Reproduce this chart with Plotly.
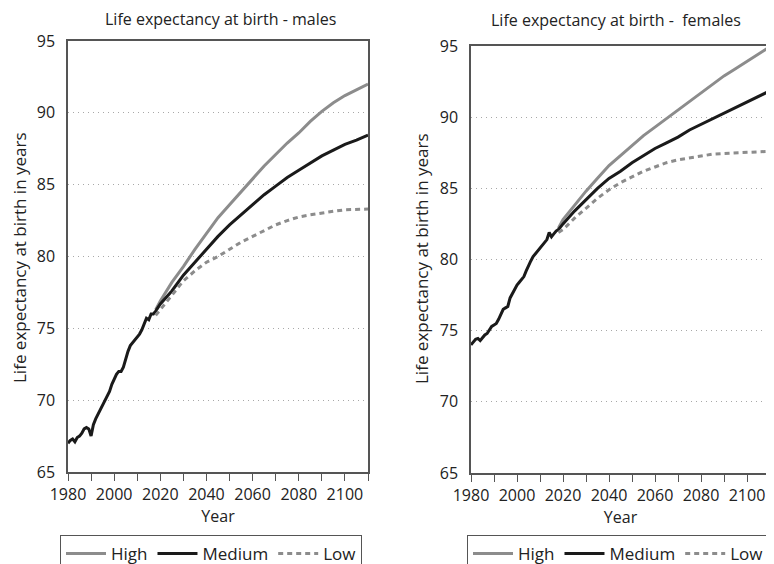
import plotly.graph_objects as go

# --- data ----------------------------------------------------------------
hist_years_m = list(range(1980, 2019))
hist_m = [67.0, 67.2, 67.3, 67.1, 67.4, 67.5, 67.7, 68.0, 68.1, 68.0,
          67.5, 68.3, 68.7, 69.0, 69.3, 69.6, 70.0, 70.3, 70.6, 71.1,
          71.5, 71.8, 72.0, 72.0, 72.3, 72.9, 73.4, 73.8, 74.0, 74.2,
          74.4, 74.6, 74.9, 75.3, 75.7, 75.6, 76.0, 76.0, 76.2]

proj_years = [2018, 2020, 2025, 2030, 2035, 2040, 2045, 2050, 2055, 2060,
              2065, 2070, 2075, 2080, 2085, 2090, 2095, 2100, 2105, 2110]
high_m = [76.3, 76.9, 78.2, 79.3, 80.5, 81.6, 82.7, 83.6, 84.5, 85.4,
          86.3, 87.1, 87.9, 88.6, 89.4, 90.1, 90.7, 91.2, 91.6, 92.0]
medium_m = [76.2, 76.7, 77.6, 78.7, 79.6, 80.5, 81.4, 82.2, 82.9, 83.6,
            84.3, 84.9, 85.5, 86.0, 86.5, 87.0, 87.4, 87.8, 88.1, 88.45]
low_m = [75.9, 76.3, 77.3, 78.3, 79.0, 79.6, 80.0, 80.5, 81.0, 81.4,
         81.8, 82.2, 82.5, 82.75, 82.9, 83.05, 83.15, 83.25, 83.3, 83.3]

hist_years_f = list(range(1980, 2019))
hist_f = [74.0, 74.2, 74.4, 74.45, 74.3, 74.5, 74.7, 74.8, 75.1, 75.3,
          75.4, 75.5, 75.8, 76.2, 76.5, 76.6, 76.7, 77.3, 77.6, 78.0,
          78.2, 78.4, 78.6, 78.8, 79.2, 79.6, 79.9, 80.2, 80.4, 80.6,
          80.8, 81.0, 81.2, 81.4, 81.9, 81.6, 81.8, 82.0, 82.1]
high_f = [82.2, 82.8, 83.8, 84.8, 85.7, 86.6, 87.3, 88.0, 88.7, 89.3,
          89.9, 90.5, 91.1, 91.7, 92.3, 92.9, 93.4, 93.9, 94.4, 94.95]
medium_f = [82.1, 82.5, 83.4, 84.2, 85.0, 85.7, 86.2, 86.8, 87.3, 87.8,
            88.2, 88.6, 89.1, 89.5, 89.9, 90.3, 90.7, 91.1, 91.5, 91.85]
low_f = [81.9, 82.1, 82.9, 83.6, 84.3, 84.9, 85.4, 85.8, 86.2, 86.5,
         86.8, 87.0, 87.15, 87.3, 87.4, 87.45, 87.5, 87.55, 87.6, 87.6]

x_tickvals = list(range(1980, 2111, 10))
x_ticktext = [str(v) if (v - 1980) % 20 == 0 else "" for v in x_tickvals]

FONT = "Open Sans"
GREY = "#8c8c8c"
BLACK = "#1a1a1a"

fig = go.Figure()


def add_panel(hist_x, hist_y, high, medium, low, xa, ya, leg):
    fig.add_trace(go.Scatter(x=proj_years, y=high, name="High", mode="lines",
                             line=dict(color=GREY, width=3),
                             xaxis=xa, yaxis=ya, legend=leg))
    fig.add_trace(go.Scatter(x=hist_x[:-1] + proj_years, y=hist_y[:-1] + medium,
                             name="Medium", mode="lines",
                             line=dict(color=BLACK, width=3),
                             xaxis=xa, yaxis=ya, legend=leg))
    fig.add_trace(go.Scatter(x=proj_years, y=low, name="Low", mode="lines",
                             line=dict(color=GREY, width=3, dash="5px,4px"),
                             xaxis=xa, yaxis=ya, legend=leg))


add_panel(hist_years_m, hist_m, high_m, medium_m, low_m, "x", "y", "legend")
add_panel(hist_years_f, hist_f, high_f, medium_f, low_f, "x2", "y2", "legend2")

W, H = 774, 564
OFF = 8  # page body margin


def px(v):
    return (v - OFF) / W


def py(v):
    return 1 - (v - OFF) / H


xaxis_common = dict(range=[1980, 2110], tickvals=x_tickvals, ticktext=x_ticktext,
                    ticks="outside", ticklen=7, tickcolor="#555", showgrid=False,
                    showline=True, linecolor="#555", linewidth=1.5, mirror=True,
                    zeroline=False, tickfont=dict(size=16, color="#222"),
                    automargin=False,
                    title=dict(text="Year", font=dict(size=16, color="#222"), standoff=5))
yaxis_common = dict(range=[65, 95], dtick=5, ticks="", showgrid=True,
                    gridcolor="#a8a8a8", griddash="1px,4px", gridwidth=1,
                    showline=True, linecolor="#555", linewidth=1.5, mirror=True,
                    zeroline=False, tickfont=dict(size=16, color="#222"),
                    automargin=False, ticklabelstandoff=8)

legend_common = dict(orientation="h", xanchor="left", yanchor="top",
                     bordercolor="#555", borderwidth=1, font=dict(size=17),
                     itemwidth=40, tracegroupgap=0)

fig.update_layout(
    width=W, height=H,
    margin=dict(l=0, r=0, t=0, b=0, autoexpand=False),
    plot_bgcolor="white", paper_bgcolor="white",
    font=dict(family=FONT, color="#222"),
    xaxis=dict(xaxis_common, domain=[px(68), px(368)], anchor="y"),
    yaxis=dict(yaxis_common, domain=[py(472), py(41)], anchor="x"),
    xaxis2=dict(xaxis_common, domain=[px(471), px(770)], anchor="y2"),
    yaxis2=dict(yaxis_common, domain=[py(473), py(46)], anchor="x2"),
    legend=dict(legend_common, x=px(60), y=py(535)),
    legend2=dict(legend_common, x=px(467), y=py(535)),
    annotations=[
        dict(text="Life expectancy at birth - males", x=px(220), y=py(19),
             xanchor="center", yanchor="middle",
             xref="paper", yref="paper", showarrow=False, font=dict(size=16)),
        dict(text="Life expectancy at birth -  females", x=px(616), y=py(20),
             xanchor="center", yanchor="middle",
             xref="paper", yref="paper", showarrow=False, font=dict(size=16)),
        dict(text="Life expectancy at birth in years", x=px(20), y=py(258),
             xanchor="center", yanchor="middle",
             xref="paper", yref="paper", showarrow=False, textangle=-90,
             font=dict(size=17)),
        dict(text="Life expectancy at birth in years", x=px(421), y=py(259),
             xanchor="center", yanchor="middle",
             xref="paper", yref="paper", showarrow=False, textangle=-90,
             font=dict(size=17)),
    ],
    showlegend=True,
)

fig.write_html("out.html")
